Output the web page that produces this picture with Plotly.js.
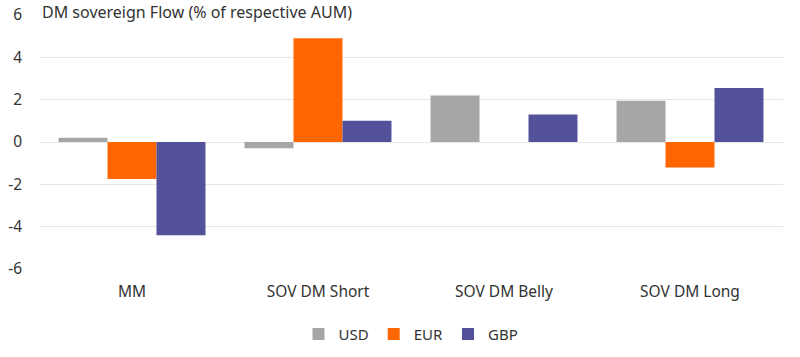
<!DOCTYPE html>
<html>
<head>
<meta charset="utf-8">
<script src="https://cdn.plot.ly/plotly-3.0.1.min.js"></script>
<style>html,body{margin:0;padding:0;background:#fff;}#chart{width:800px;height:357px;}</style>
</head>
<body>
<div id="chart"></div>
<script>
const categories = ["MM", "SOV DM Short", "SOV DM Belly", "SOV DM Long"];
const seriesNames = ["USD", "EUR", "GBP"];
const usd = [0.2, -0.3, 2.2, 1.95];
const eur = [-1.75, 4.9, 0, -1.2];
const gbp = [-4.4, 1.0, 1.3, 2.55];
const colors = ["#a6a6a6", "#ff6600", "#525199"];
const yTicks = [-6, -4, -2, 0, 2, 4, 6];
const chartTitle = "DM sovereign Flow (% of respective AUM)";

const font = "Noto Sans, sans-serif";
const data = [usd, eur, gbp].map((vals, i) => ({
  type: "bar",
  name: seriesNames[i],
  x: categories,
  y: vals,
  marker: { color: colors[i], line: { width: 0 } },
  hoverinfo: "x+y+name"
}));

const layout = {
  width: 800, height: 357,
  margin: { l: 39, r: 17, t: 15, b: 88, autoexpand: false },
  paper_bgcolor: "#fff", plot_bgcolor: "#fff",
  font: { family: font, size: 15, color: "#333" },
  barmode: "group", bargap: 0.21, bargroupgap: 0,
  showlegend: true,
  legend: { orientation: "h", x: 0.5, xanchor: "center", yref: "container", y: 0.064, yanchor: "middle",
            font: { size: 15, color: "#333" }, itemwidth: 30, traceorder: "normal" },
  xaxis: { type: "category", showline: false, showgrid: false, zeroline: false,
           ticks: "outside", ticklen: 8, tickcolor: "rgba(0,0,0,0)",
           tickfont: { size: 15.5, color: "#333" }, fixedrange: true },
  xaxis2: { overlaying: "x", anchor: "free", position: 0.5, type: "linear",
            range: [-0.5, 3.5], tickvals: [-0.5, 0.5, 1.5, 2.5, 3.5],
            showticklabels: false, ticks: "outside", ticklen: 4, tickcolor: "#a0a0a0",
            showline: true, linecolor: "#a0a0a0", linewidth: 1, showgrid: false, zeroline: false },
  yaxis: { range: [-6, 6], tickvals: yTicks, ticktext: yTicks.map(String),
           showgrid: true, gridcolor: "#e6e6e6", gridwidth: 1, zeroline: false,
           showline: false, ticks: "", ticklabelstandoff: 16,
           tickfont: { size: 15.5, color: "#333" }, fixedrange: true },
  annotations: [{
    text: chartTitle, xref: "paper", yref: "paper", x: 0, y: 1, xanchor: "left", yanchor: "middle",
    xshift: 1, yshift: 3, showarrow: false, bgcolor: "#fff",
    font: { family: font, size: 16, color: "#333" }
  }]
};

Plotly.newPlot("chart", data, layout, { displayModeBar: false, staticPlot: true });
</script>
</body>
</html>
